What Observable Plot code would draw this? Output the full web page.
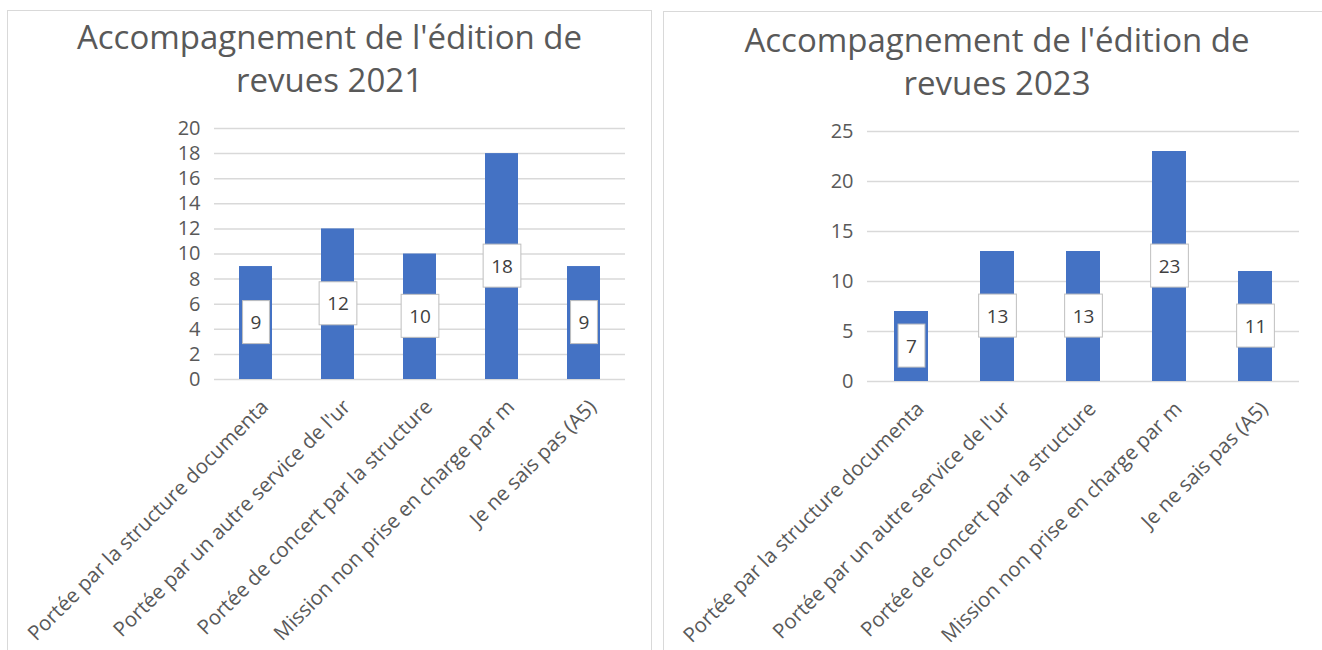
<!DOCTYPE html>
<html><head><meta charset="utf-8">
<script src="https://cdn.jsdelivr.net/npm/d3@7"></script>
<script src="https://cdn.jsdelivr.net/npm/@observablehq/plot@0.6"></script>
<style>
body{margin:0;background:#fff;width:1322px;height:650px;overflow:hidden;position:relative;font-family:"Open Sans",sans-serif;}
.panel{position:absolute;background:#fff;border:1px solid #d9d9d9;box-sizing:border-box;overflow:hidden;}
.title{text-align:center;color:#595959;font-size:33px;line-height:43px;height:105px;box-sizing:border-box;font-weight:400;}
#p1{left:7px;top:10px;width:645px;height:700px;}
#p2{left:663px;top:11px;width:670px;height:700px;}
#p1 .title{padding-top:4px;}
#p2 .title{padding-top:6px;width:666px;}
svg{display:block;}
</style>
</head><body>
<div class="panel" id="p1"><div class="title">Accompagnement de l'édition de<br>revues 2021</div></div>
<div class="panel" id="p2"><div class="title">Accompagnement de l'édition de<br>revues 2023</div></div>
<script>
const categories = [
  "Portée par la structure documenta",
  "Portée par un autre service de l'ur",
  "Portée de concert par la structure",
  "Mission non prise en charge par m",
  "Je ne sais pas (A5)"
];
const values2021 = [9, 12, 10, 18, 9];
const values2023 = [7, 13, 13, 23, 11];
const ticks2021 = [0, 2, 4, 6, 8, 10, 12, 14, 16, 18, 20];
const ticks2023 = [0, 5, 10, 15, 20, 25];

function chart(values, ticks, o) {
  const data = categories.map((c, i) => ({c, v: values[i]}));
  return Plot.plot({
    width: o.width, height: o.height,
    marginLeft: o.ml, marginRight: o.mr, marginTop: o.mt, marginBottom: o.mb,
    style: {fontFamily: "Open Sans", fontSize: "20px", color: "#595959", background: "transparent", overflow: "visible"},
    x: {domain: categories, paddingInner: 0.6, paddingOuter: 0.3, label: null},
    y: {domain: [ticks[0], ticks[ticks.length - 1]], ticks: ticks, label: null, tickSize: 0, tickPadding: 14},
    marks: [
      Plot.ruleY(ticks, {stroke: "#d9d9d9", strokeWidth: 1.5}),
      Plot.barY(data, {x: "c", y: "v", fill: "#4472C4"}),
      Plot.text(data, {x: "c", y: d => d.v / 2, text: d => String(d.v), fill: "#404040", fontSize: 19}),
      Plot.axisX({tickSize: 0, tickRotate: -45, tickPadding: 18, label: null, dx: 9, dy: 6, fontSize: 20.5})
    ]
  });
}

function addBoxes(svg) {
  svg.querySelectorAll('g[aria-label="text"]').forEach(g => {
    g.querySelectorAll("text").forEach(t => {
      const b = t.getBBox();
      const cx = b.x + b.width / 2, cy = b.y + b.height / 2;
      const w = b.width + 16, h = 43;
      const r = document.createElementNS("http://www.w3.org/2000/svg", "rect");
      r.setAttribute("x", cx - w / 2);
      r.setAttribute("y", cy - h / 2);
      r.setAttribute("width", w);
      r.setAttribute("height", h);
      r.setAttribute("fill", "#fff");
      r.setAttribute("stroke", "#bfbfbf");
      r.setAttribute("stroke-width", 1);
      const tr = t.getAttribute("transform");
      if (tr) r.setAttribute("transform", tr);
      g.insertBefore(r, t);
    });
  });
}

const c1 = chart(values2021, ticks2021, {width: 643, height: 560, ml: 206, mr: 643 - 617, mt: 12, mb: 560 - 263});
document.getElementById("p1").appendChild(c1);
addBoxes(c1);
const c2 = chart(values2023, ticks2023, {width: 668, height: 560, ml: 203, mr: 668 - 635, mt: 14, mb: 560 - 264});
document.getElementById("p2").appendChild(c2);
addBoxes(c2);
</script>
</body></html>
